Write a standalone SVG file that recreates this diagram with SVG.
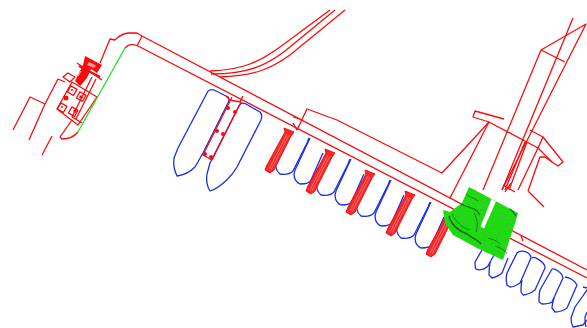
<svg xmlns="http://www.w3.org/2000/svg" xmlns:xlink="http://www.w3.org/1999/xlink" width="587" height="328" viewBox="0 0 587 328">
<style>
.r{fill:none;stroke:#f50d0d;stroke-width:1.3;stroke-linejoin:round}
.b{fill:none;stroke:#1a2ee6;stroke-width:1.3;stroke-linejoin:round}
.d{fill:none;stroke:#0a4a0a;opacity:.75}
</style>
<defs>
<filter id="mottle" x="0" y="0" width="1" height="1">
<feTurbulence type="fractalNoise" baseFrequency="0.55" numOctaves="2" seed="4" result="n"/>
<feColorMatrix in="n" type="matrix" values="0 0 0 0 0.05 0 0 0 0 0.35 0 0 0 0 0.05 0 0 0 2.2 -1.05" result="a"/>
<feComposite in="a" in2="SourceGraphic" operator="in" result="c"/>
<feMerge><feMergeNode in="SourceGraphic"/><feMergeNode in="c"/></feMerge>
</filter>
<g id="pier"><path d="M-3 0L7 4L4 8L-13 42L-17 45L-22 42L-20 37L-2 4Z" fill="#f22a2a" stroke="#f50d0d" stroke-width="1"/><path d="M0 6L-18 41M2 7L-16 42" stroke="#ff8a8a" stroke-width=".7" fill="none"/></g>
<g id="pair"><path class="b" d="M-2 5L-15 29C-17 35-17 42-12 46C-6 47-2 46 1 43L15 15L17 10"/><path class="b" d="M18 10L3 42C1 47 2 53 8 56C14 56 18 55 19 52L31 25"/></g>
</defs>
<rect width="587" height="328" fill="#fff"/>
<g id="roads">
<path class="r" d="M100 63L110 39L115 40C120 35 125 33 129 33L137 33L142 36L587 270"/>
<path class="r" d="M125 48C129 44 132 44 137 45.500L587 278"/>
<path class="r" d="M142 36L137 46"/>
<path class="r" d="M210 71C245 70 262 60 280 47L330 10"/>
<path class="r" d="M211 74C250 74 268 64 285 51L335 10"/>
<path class="r" d="M220 77C255 76 272 68 290 55L345 10"/>
<path class="r" d="M293 123L297 130L307 109L337 120L442 173L489 122L473 117L475 111L504 119"/>
<path class="r" d="M293 117L300 119"/>
<path class="r" d="M489 122L538 148L552 162L558 166L563 162L543 137L530 130"/>
<path class="r" d="M538 148L543 137"/>
<path class="r" d="M450 198L489 122"/>
<path class="r" d="M483 190L541 50L586 24L502 190"/>
<path class="r" d="M541 50L565 62"/>
<path class="r" d="M502 190L573 18"/>
<path class="r" d="M505 190L525 142M509 190L527 142"/>
<path class="r" d="M518 190L538 148"/>
<path class="r" d="M528 191L540 157L545 157L552 162M528 191L544 207"/>
<path class="r" d="M503 185L515 192M511 183L505 192"/>
<path class="r" d="M521 236L523 241"/>
</g>
<g id="west-site">
<path class="r" d="M13 130L30 97L45 104L58 79L65 82"/>
<path class="r" d="M29 140L45 104"/>
<path class="r" d="M42 155L52 136"/>
<path class="r" d="M63 77L68 73L75 77L70 82Z"/>
<path class="r" d="M72 82L97 97L78 125L57 109Z"/>
<path class="r" d="M72 120L60 137L62 139C68 139 74 137 78 132"/>
<path class="r" d="M72 117L82 123"/>
<path class="r" d="M77 63L102 80"/>
<path class="r" d="M92 77L72 117M96 79L76 119"/>
<path d="M85 56L102 65L97 73L91 69L87 78L80 86L75 81L83 65Z" fill="#f50d0d"/>
<path d="M89 62L96 65.500L94 68L87 65Z" fill="#ff9a9a"/>
<path d="M81 71L78 76" stroke="#ffb0b0" stroke-width="1"/>
<path d="M79 66L100 77" stroke="#f50d0d" stroke-width="2.200"/>
<rect class="r" x="69" y="87" width="7" height="7" transform="rotate(30 72 90)"/>
<rect class="r" x="78" y="93" width="7" height="7" transform="rotate(30 81 96)"/>
<rect class="r" x="59" y="104" width="7" height="7" transform="rotate(30 62 107)"/>
<rect class="r" x="70" y="108" width="7" height="7" transform="rotate(30 73 111)"/>
<circle cx="66" cy="98" r="2.500" fill="#f50d0d"/>
<circle cx="81" cy="97" r="1.800" fill="#f50d0d"/>
<circle cx="75" cy="111" r="1.800" fill="#f50d0d"/>
<circle cx="72" cy="90" r="1" fill="#f50d0d"/>
<circle cx="62" cy="107" r="1" fill="#f50d0d"/>
<path d="M125 48L78 132" fill="none" stroke="#22e022" stroke-width="1.300"/>
</g>
<g id="dock-large">
<path class="b" d="M207 93C208 90 211 89 214 90L228 97C230 99 229 101 228 103L203 153L195 167C190 172 184 175 177 176C174 170 173 165 174 158L178 148Z"/>
<path class="b" d="M238 108C240 103 242 102 246 104L260 112C262 114 262 117 261 120L237 167C232 176 220 188 210 191C207 186 206 180 207 174L210 163Z"/>
<path class="r" d="M232 97L203 155L212 160L241 102"/>
<path class="r" d="M229 99L226 96M240 102L243 96M229 100L241 102"/>
<g fill="#f50d0d"><circle cx="228" cy="108" r="2"/><circle cx="235" cy="112" r="2"/><circle cx="217" cy="131" r="2"/><circle cx="223" cy="134" r="2"/><circle cx="205" cy="154" r="2"/><circle cx="211" cy="157" r="2"/></g>
</g>
<g id="ships">
<use xlink:href="#pair" href="#pair" x="292" y="128"/>
<use xlink:href="#pair" href="#pair" x="333" y="149"/>
<use xlink:href="#pair" href="#pair" x="373" y="170"/>
<use xlink:href="#pair" href="#pair" x="413" y="192"/>
<path class="b" d="M482 250L475 262C475 266 475 268 476 269C480 271 485 269 488 266L494 255"/>
<path class="b" d="M490 262C489 268 489 272 489 275L492 278C496 277 500 275 502 273L508 258"/>
<path class="b" d="M517 253C520 250 525 251 528 253C531 255 531 257 531 258L520 283C517 285 513 287 510 287L507 285C506 281 506 277 507 273Z"/>
<path class="b" d="M532 258C534 256 540 260 543 263C545 265 545 266 545 268L535 290C531 293 527 295 523 295L521 292C521 288 521 284 522 280"/>
<path class="b" d="M552 269C555 268 560 272 562 275L563 278L552 302C549 304 545 304 542 304L539 302C539 298 539 294 540 290Z"/>
<path class="b" d="M565 277C568 277 573 280 575 282L577 285L567 308C563 311 559 312 555 312L552 308C552 304 553 301 554 298"/>
<path class="b" d="M583 287L587 288M587 290L575 307L571 318C571 322 572 325 573 327L583 325L587 320"/>
<path class="b" d="M587 312L585 317C585 321 585 324 586 327"/>
</g>
<g id="piers">
<use xlink:href="#pier" href="#pier" x="287" y="128"/>
<use xlink:href="#pier" href="#pier" x="328" y="149"/>
<use xlink:href="#pier" href="#pier" x="368" y="170"/>
<use xlink:href="#pier" href="#pier" x="408" y="191"/>
<use xlink:href="#pier" href="#pier" x="448" y="212"/>
</g>
<g id="green-area">
<path d="M469 187L518 213L517 217L503 260L477 248L453 235L445 223L443 210L450 212L462 203Z" fill="#1fe00f" filter="url(#mottle)"/>
<path d="M491.500 199L496 201.500L484 228.500L480.500 226.500Z" fill="#fff"/>
<path class="d" stroke-width="1.300" d="M461 204C468 208 476 207 480 215"/>
<path class="d" stroke-width="1.500" d="M449 216C451 224 458 231 467 234C472 238 478 240 481 244"/>
<path class="d" stroke-width=".8" d="M452 214C456 222 462 228 470 230M466 194C470 198 475 198 478 201M488 238C493 240 497 240 500 244"/>
<path class="d" stroke-width="1.200" d="M510 209C513 211 514 213 516 216"/>
<path class="d" stroke-width=".8" d="M495 246C500 248 506 250 507 254M474 213C478 220 478 226 476 232"/>
</g>
</svg>
